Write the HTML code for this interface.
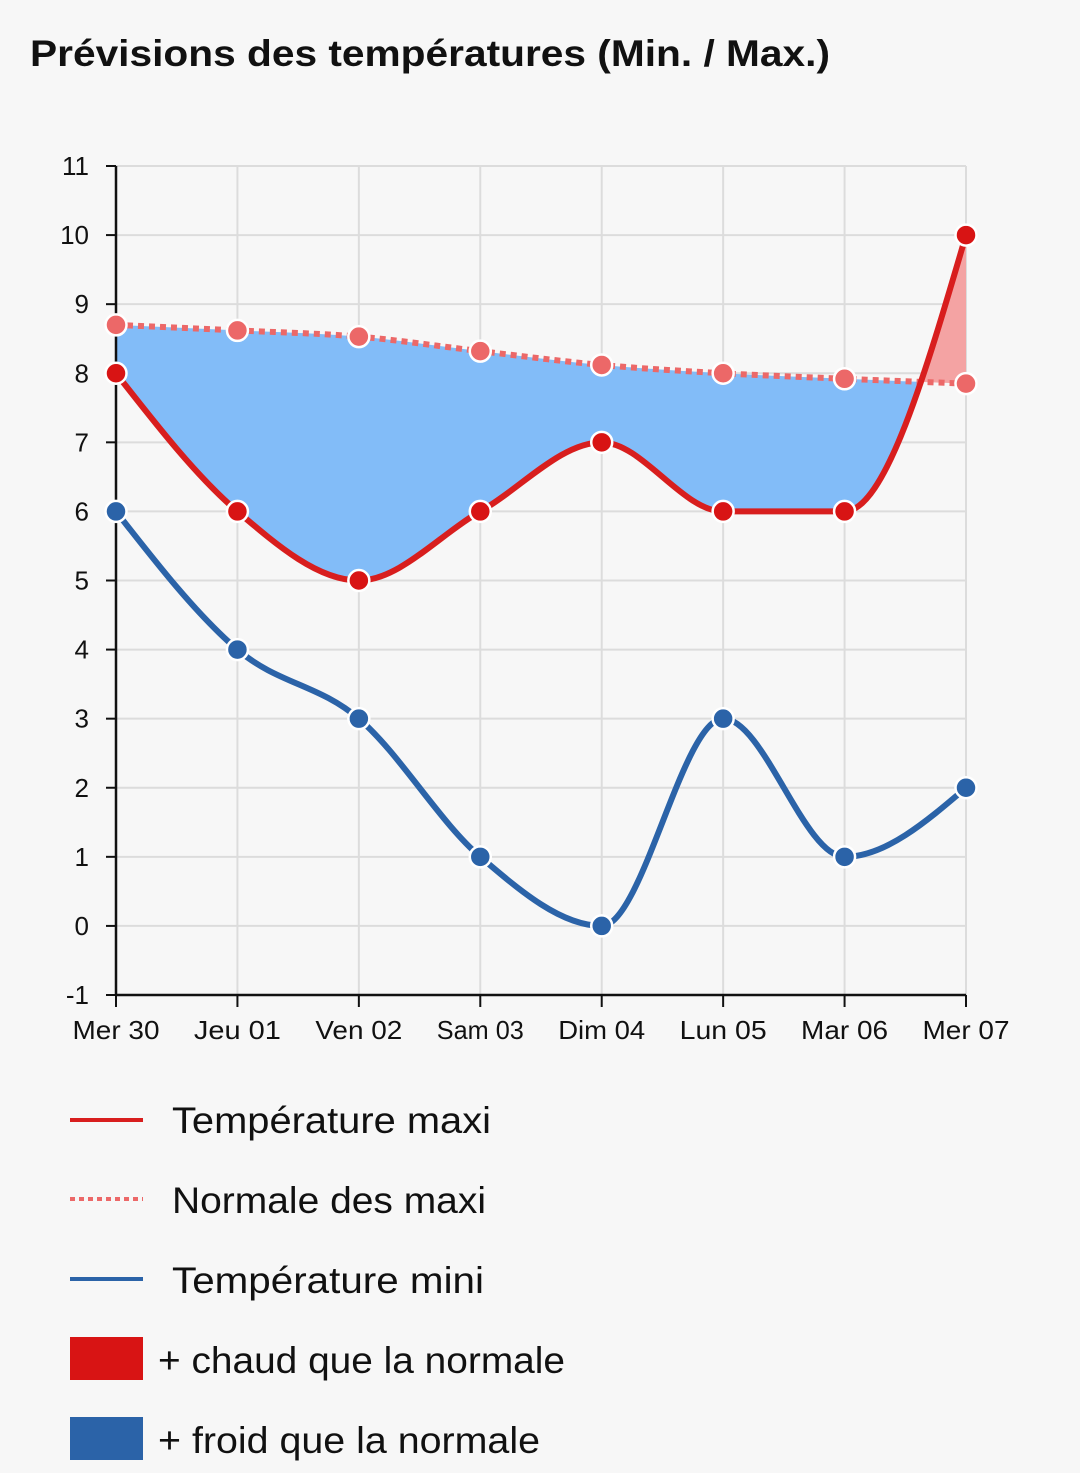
<!DOCTYPE html>
<html><head><meta charset="utf-8">
<style>
body{margin:0;background:#f7f7f7;font-family:"Liberation Sans","DejaVu Sans",sans-serif;}
svg{display:block}
</style></head>
<body>
<svg id="chart" width="1080" height="1473">
<rect width="1080" height="1473" fill="#f7f7f7"/>
<text x="30" y="66" font-size="37" font-weight="bold" fill="#111" textLength="800" lengthAdjust="spacingAndGlyphs">Prévisions des températures (Min. / Max.)</text>
<g id="grid"></g>
<g id="areas"></g>
<g id="lines"></g>
<g id="axes"></g>
<g id="dots"></g>
<g id="legend">
<line x1="70" y1="1120" x2="143" y2="1120" stroke="#d81e1e" stroke-width="4"/>
<text x="172" y="1133" font-size="37" fill="#111" textLength="319" lengthAdjust="spacingAndGlyphs">Température maxi</text>
<line x1="70" y1="1199" x2="143" y2="1199" stroke="#ec6868" stroke-width="4" stroke-dasharray="5,4"/>
<text x="172" y="1213" font-size="37" fill="#111" textLength="314" lengthAdjust="spacingAndGlyphs">Normale des maxi</text>
<line x1="70" y1="1279" x2="143" y2="1279" stroke="#2b63a8" stroke-width="4"/>
<text x="172" y="1293" font-size="37" fill="#111" textLength="312" lengthAdjust="spacingAndGlyphs">Température mini</text>
<rect x="70" y="1337" width="73" height="43" fill="#d81414"/>
<text x="158" y="1373" font-size="37" fill="#111" textLength="407" lengthAdjust="spacingAndGlyphs">+ chaud que la normale</text>
<rect x="70" y="1417" width="73" height="43" fill="#2b63a8"/>
<text x="158" y="1453" font-size="37" fill="#111" textLength="382" lengthAdjust="spacingAndGlyphs">+ froid que la normale</text>
</g>
</svg>
<script>
const categories=["Mer 30","Jeu 01","Ven 02","Sam 03","Dim 04","Lun 05","Mar 06","Mer 07"];
const maxTemps=[8,6,5,6,7,6,6,10];
const normalMax=[8.7,8.62,8.53,8.32,8.12,8.0,7.92,7.85];
const minTemps=[6,4,3,1,0,3,1,2];
const yTicks=[-1,0,1,2,3,4,5,6,7,8,9,10,11];
const X0=116,X1=966,Ytop=166,Ybot=995,ymin=-1,ymax=11;
const xs=i=>X0+(X1-X0)*i/(categories.length-1);
const ys=v=>Ybot-(v-ymin)/(ymax-ymin)*(Ybot-Ytop);
const NS="http://www.w3.org/2000/svg";
function mk(tag,attrs,parent){const e=document.createElementNS(NS,tag);for(const k in attrs)e.setAttribute(k,attrs[k]);parent.appendChild(e);return e;}
function monotone(pts){
 const n=pts.length;const d=[],m=[];
 for(let i=0;i<n-1;i++)d.push((pts[i+1][1]-pts[i][1])/(pts[i+1][0]-pts[i][0]));
 for(let i=0;i<n;i++){
  if(i==0)m.push(d[0]);else if(i==n-1)m.push(d[n-2]);
  else{ if(d[i-1]*d[i]<=0)m.push(0);else{const h0=pts[i][0]-pts[i-1][0],h1=pts[i+1][0]-pts[i][0];
   const p=(d[i-1]*h1+d[i]*h0)/(h0+h1);
   m.push((Math.sign(d[i-1])+Math.sign(d[i]))*Math.min(Math.abs(d[i-1]),Math.abs(d[i]),0.5*Math.abs(p)));}}
 }
 if(n>2){m[0]=(3*d[0]-m[1])/2; m[n-1]=(3*d[n-2]-m[n-2])/2;}
 let s="";
 for(let i=0;i<n-1;i++){const h=(pts[i+1][0]-pts[i][0])/3;
  s+=` C${pts[i][0]+h},${pts[i][1]+m[i]*h} ${pts[i+1][0]-h},${pts[i+1][1]-m[i+1]*h} ${pts[i+1][0]},${pts[i+1][1]}`;}
 return s;
}
function path(vals,rev){let p=vals.map((v,i)=>[xs(i),ys(v)]);if(rev)p=p.reverse();return {start:p[0],seg:monotone(p)};}
const grid=document.getElementById('grid'),axes=document.getElementById('axes'),areas=document.getElementById('areas'),lines=document.getElementById('lines'),dots=document.getElementById('dots');
yTicks.forEach(t=>{
 const g=mk('line',{x1:X0,x2:X1,y1:ys(t),y2:ys(t),stroke:'#dcdcdc','stroke-width':2},grid);
 
 const tk=mk('line',{x1:X0-10,x2:X0,y1:ys(t),y2:ys(t),stroke:'#111','stroke-width':2},axes);
 
 const tx=mk('text',{x:X0-27,y:ys(t)+9,'font-size':26,'text-anchor':'end',fill:'#111'},axes);tx.textContent=t;
 
});
categories.forEach((c,i)=>{
 const g=mk('line',{x1:xs(i),x2:xs(i),y1:Ytop,y2:Ybot,stroke:'#dcdcdc','stroke-width':2},grid);
 
 const tk=mk('line',{x1:xs(i),x2:xs(i),y1:Ybot,y2:Ybot+12,stroke:'#111','stroke-width':2},axes);
 
 const tx=mk('text',{x:xs(i),y:Ybot+44,'font-size':26,'text-anchor':'middle',fill:'#111',textLength:c.length*14.5,lengthAdjust:'spacingAndGlyphs'},axes);tx.textContent=c;
 
});
const ya=mk('line',{x1:X0,x2:X0,y1:Ytop,y2:Ybot,stroke:'#111','stroke-width':2.5},axes);

const xa=mk('line',{x1:X0,x2:X1,y1:Ybot,y2:Ybot,stroke:'#111','stroke-width':2.5},axes);

const nF=path(normalMax),mR=path(maxTemps,true),mF=path(maxTemps);
const between=`M${nF.start}${nF.seg} L${mR.start}${mR.seg} Z`;
const defs=mk('defs',{},areas);
const cpA=mk('clipPath',{id:'aboveMax'},defs);
mk('path',{d:`M${X0},0 L${X0},${mF.start[1]}${mF.seg} L${X1},0 Z`},cpA);
const cpB=mk('clipPath',{id:'belowMax'},defs);
mk('path',{d:`M${X0},1473 L${X0},${mF.start[1]}${mF.seg} L${X1},1473 Z`},cpB);
const ab=mk('path',{d:between,fill:'#82bcf8','clip-path':'url(#aboveMax)'},areas);

const ar=mk('path',{d:between,fill:'#f4a3a3','clip-path':'url(#belowMax)'},areas);

function line(vals,color,name,dash){const p=path(vals);
 const e=mk('path',{d:`M${p.start}${p.seg}`,fill:'none',stroke:color,'stroke-width':6},lines);
 if(dash)e.setAttribute('stroke-dasharray',dash);
 }
line(normalMax,'#ec6868','normal-max-line','6,5');
line(maxTemps,'#d81e1e','max-temp-line');
line(minTemps,'#2b63a8','min-temp-line');
function pts(vals,color,name){vals.forEach((v,i)=>{
 const c=mk('circle',{cx:xs(i),cy:ys(v),r:10.5,fill:color,stroke:'#fff','stroke-width':2.5},dots);
 });}
pts(normalMax,'#ec6868','normal-max-point');
pts(maxTemps,'#d81414','max-temp-point');
pts(minTemps,'#2b63a8','min-temp-point');
</script>
</body></html>
